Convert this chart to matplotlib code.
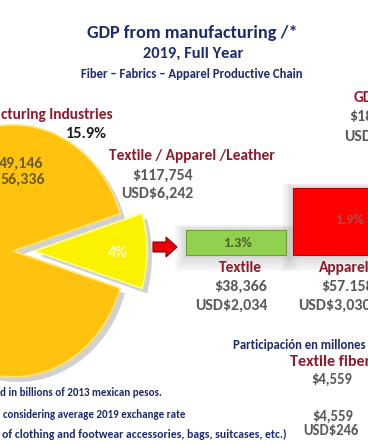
import matplotlib
matplotlib.use("Agg")
import matplotlib.pyplot as plt
from matplotlib.patches import FancyArrow, Rectangle
from matplotlib import font_manager as fm

# ---------------- data ----------------
title = "GDP from manufacturing /*"
subtitle = "2019, Full Year"
chain = "Fiber \u2013 Fabrics \u2013 Apparel Productive Chain"

pie_labels = ["cturing Industries", "Textile / Apparel /Leather"]
pie_slices = [90.4, 9.6]          # visual slice sizes
pie_share_text = ["15.9%", "4%"]
manuf_values = ["49,146", "56,336"]
tal_values = ["$117,754", "USD$6,242"]

bar_categories = ["Textile", "Apparel"]
bar_shares = [1.3, 1.9]
bar_pesos = ["$38,366", "$57.158"]
bar_usd = ["USD$2,034", "USD$3,030"]

gdp_right = ["GD", "$18", "USD"]
fibers_head = "Participaci\u00f3n en millones"
fibers_label = "Textile fibers"
fibers_values = ["$4,559", "$4,559", "USD$246"]

notes = ["d in billions of 2013 mexican pesos.",
         "considering average 2019 exchange rate",
         "of clothing and footwear accessories, bags, suitcases, etc.)"]

# ---------------- style ----------------
W, H = 368, 445
NAVY = "#1E2A6E"
DRED = "#8E1B2C"
GRAY = "#595959"
OLIVE = "#6B5E1E"
installed = {f.name for f in fm.fontManager.ttflist}
main_font = "Carlito" if "Carlito" in installed else "Lato"
plt.rcParams["font.family"] = [main_font, "DejaVu Sans"]

fig = plt.figure(figsize=(W / 100, H / 100), dpi=100)
fig.patch.set_facecolor("white")
renderer = fig.canvas.get_renderer()

# pie axes (elliptical pie: pixel centre cx, cy and semi axes a, b)
cx, cy, a, b = 13, 251, 112, 126
pax = fig.add_axes([0, 0, 1, 1], zorder=1)
pax.axis("off")
start = pie_slices[1] / sum(pie_slices) * 180
pax.pie(pie_slices, startangle=start, explode=[0, 22 / a],
        colors=["#9a9a9a", "#9a9a9a"], center=(5 / a, -5 / b), radius=1.0,
        wedgeprops=dict(linewidth=0, alpha=0.45))
wedges, _ = pax.pie(pie_slices, startangle=start, explode=[0, 22 / a],
                    colors=["#FFC20E", "#FAF200"], radius=1.0,
                    wedgeprops=dict(linewidth=1.2, edgecolor="#FFE36A"))
wedges[1].set_edgecolor("#FFFF80")
pax.set_aspect("auto")
pax.set_xlim(-cx / a, (W - cx) / a)
pax.set_ylim((cy - H) / b, cy / b)

# overlay axes in pixel coordinates
ax = fig.add_axes([0, 0, 1, 1], zorder=2)
ax.set_facecolor("none")
ax.set_xlim(0, W)
ax.set_ylim(H, 0)
ax.axis("off")


def size_for(s, width):
    tmp = ax.text(0, 0, s, fontsize=10, fontweight="bold")
    w = tmp.get_window_extent(renderer).width
    tmp.remove()
    return 10 * width / w


def t(x, y, s, size, color, ha="center", **kw):
    ax.text(x, y, s, fontsize=size, color=color, ha=ha, va="center",
            fontweight="bold", **kw)


# group sizes fitted to widths measured on the reference
s_lab = size_for(pie_labels[1], 165)
s_val = size_for(bar_usd[0], 72)
s_fib = size_for(fibers_values[2], 55)

# titles
t(192, 33, title, size_for(title, 211), NAVY)
t(193, 54, subtitle, size_for(subtitle, 100), NAVY)
t(192, 74, chain, size_for(chain, 224), NAVY)

# pie texts
t(113, 115, pie_labels[0], s_lab, DRED, ha="right")
t(86, 134, pie_share_text[0], size_for(pie_share_text[0], 41), "#1a1a1a")
t(43, 164, manuf_values[0], s_val, OLIVE, ha="right")
t(45, 180, manuf_values[1], s_val, OLIVE, ha="right")
t(109, 156, pie_labels[1], s_lab, DRED, ha="left")
t(132, 176, tal_values[0], s_val, GRAY, ha="left")
t(121, 194, tal_values[1], s_val, GRAY, ha="left")
t(118, 253, pie_share_text[1], size_for(pie_share_text[1], 20), "#FFFFC8")

# arrow
ax.add_patch(FancyArrow(153, 247, 24, 0, width=10, head_width=20,
                        head_length=11, length_includes_head=True,
                        facecolor="#E8000B", edgecolor="#8B0000", lw=0.8))

# bars (with soft shadow)
bar_x = [236, 350]
bar_w = [100, 114]
bar_h = [-25, -67]
base = 255
for k in range(6):
    g = 3 + 3 * k
    for xc, w, h in zip(bar_x, bar_w, bar_h):
        ax.add_patch(Rectangle((xc - w / 2 - g * 0.6, base + h - g * 0.3),
                               w + g * 1.2, -h + g * 1.2,
                               facecolor="#808080", alpha=0.05, lw=0,
                               zorder=1))
ax.bar(bar_x, bar_h, width=bar_w, bottom=base,
       color=["#92D050", "#FF0000"],
       edgecolor=["#6E9E35", "#C00000"], linewidth=0.8, zorder=2)
s_pct = size_for("1.3%", 29)
t(237, 243, f"{bar_shares[0]}%", s_pct, "#4F6228", zorder=3)
t(350, 220, f"{bar_shares[1]}%", s_pct, "#B84848", zorder=3)

t(240, 268, bar_categories[0], s_lab, DRED)
t(267, 287, bar_pesos[0], s_val, GRAY, ha="right")
t(267, 306, bar_usd[0], s_val, GRAY, ha="right")
t(319, 268, bar_categories[1], s_lab, DRED, ha="left")
t(321, 287, bar_pesos[1], s_val, GRAY, ha="left")
t(298, 306, bar_usd[1], s_val, GRAY, ha="left")

# right top clipped block
t(354, 98, gdp_right[0], s_lab, DRED, ha="left")
t(349, 117, gdp_right[1], s_val, GRAY, ha="left")
t(344, 137, gdp_right[2], s_val, GRAY, ha="left")

# fibers block
t(233, 345, fibers_head, size_for(fibers_head, 134), NAVY, ha="left")
t(290, 362, fibers_label, s_lab * 1.05, DRED, ha="left")
t(332, 380, fibers_values[0], s_fib, GRAY)
t(333, 417, fibers_values[1], s_fib, GRAY)
t(331, 431, fibers_values[2], s_fib, GRAY)

# footnotes
t(0, 393, notes[0], size_for(notes[0], 162), NAVY, ha="left")
t(3, 414, notes[1], size_for(notes[1], 180), NAVY, ha="left")
t(2, 434, notes[2], size_for(notes[2], 284), NAVY, ha="left")

fig.savefig("out.png", dpi=100, facecolor="white")
